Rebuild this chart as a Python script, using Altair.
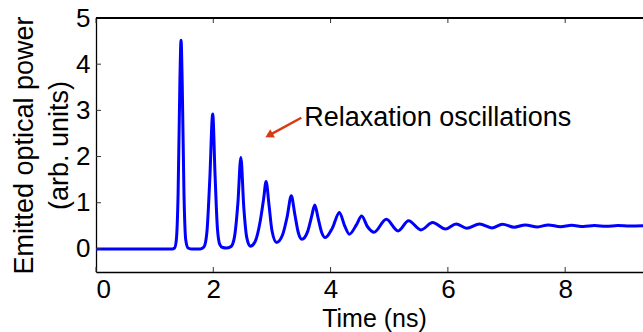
import altair as alt
import pandas as pd

# ---- data ----
time_ns = [0.00, 1.00, 1.30, 1.34, 1.37, 1.40, 1.43, 1.45, 1.47, 1.50, 1.53, 1.57, 1.62,
           1.78, 1.84, 1.89, 1.94, 1.99, 2.03, 2.07, 2.11, 2.16, 2.22,
           2.30, 2.36, 2.42, 2.47, 2.52, 2.57, 2.63,
           2.71, 2.80, 2.86, 2.90, 2.95, 3.00, 3.08,
           3.18, 3.26, 3.33, 3.39, 3.45, 3.51,
           3.61, 3.68, 3.73, 3.79, 3.85, 3.91,
           4.03, 4.15, 4.24, 4.32, 4.44, 4.53, 4.63, 4.74,
           4.95, 5.15, 5.33, 5.54, 5.74, 5.96, 6.14, 6.32, 6.54, 6.75, 6.93,
           7.13, 7.32, 7.53, 7.71, 7.92, 8.11, 8.31, 8.50, 8.70, 8.90, 9.10, 9.33]
power = [0.00, 0.00, 0.00, 0.02, 0.20, 1.20, 3.60, 4.52, 3.60, 1.20, 0.20, 0.02, 0.00,
         0.00, 0.04, 0.35, 1.50, 2.92, 1.60, 0.45, 0.10, 0.03, 0.02,
         0.05, 0.25, 1.00, 1.98, 0.90, 0.25, 0.06,
         0.15, 0.60, 1.10, 1.46, 0.95, 0.40, 0.14,
         0.30, 0.70, 1.15, 0.75, 0.35, 0.21,
         0.38, 0.72, 0.95, 0.65, 0.35, 0.245,
         0.45, 0.79, 0.50, 0.32, 0.52, 0.71, 0.48, 0.36,
         0.64, 0.39, 0.61, 0.41, 0.57, 0.43, 0.54, 0.45, 0.54, 0.455, 0.535,
         0.47, 0.52, 0.475, 0.52, 0.48, 0.51, 0.485, 0.505, 0.49, 0.505, 0.495, 0.50]

x_ticks = [0, 2, 4, 6, 8]
y_ticks = [0, 1, 2, 3, 4, 5]
x_domain = [0, 9.327]
y_domain = [-0.5, 5]

x_title = "Time (ns)"
y_title = ["Emitted optical power", "(arb. units)\u00a0\u00a0\u00a0\u00a0"]

note_text = ["Relaxation oscillations"]
note_x = [3.55]
note_y = [2.67]
arrow_x = [3.50, 2.95]
arrow_y = [2.84, 2.46]
arrow_angle = [241]

W, H = 547, 254
FONT = "Liberation Sans"

df = pd.DataFrame({"t": time_ns, "p": power})
xt = pd.DataFrame({"v": x_ticks})
yt = pd.DataFrame({"v": y_ticks})
note = pd.DataFrame({"x": note_x, "y": note_y, "txt": note_text})
arr = pd.DataFrame({"x": arrow_x, "y": arrow_y})
head = pd.DataFrame({"x": arrow_x[1:], "y": arrow_y[1:], "a": arrow_angle})

xs = alt.Scale(domain=x_domain, nice=False, zero=False)
ys = alt.Scale(domain=y_domain, nice=False, zero=False)

common = dict(grid=False, ticks=False, tickSize=0, domainColor="black", domainWidth=1.3,
              labelFont=FONT, titleFont=FONT, labelColor="black", titleColor="black",
              titleFontWeight="normal", labelFontWeight="normal", format="d")

line = alt.Chart(df).mark_line(color="#0000FF", strokeWidth=3, interpolate="monotone", clip=True).encode(
    x=alt.X("t:Q", scale=xs, axis=alt.Axis(
        values=x_ticks, title=x_title, labelFontSize=26, titleFontSize=25,
        titleX=278, titleY=54, titleBaseline="alphabetic", titleAlign="center",
        labelPadding=4, **common)),
    y=alt.Y("p:Q", scale=ys, axis=alt.Axis(
        values=y_ticks, title=y_title,
        labelFontSize=26, titleFontSize=27, titleX=-64, titleY=127,
        titleBaseline="alphabetic", titleAlign="center", titleLineHeight=35,
        labelPadding=6, **common)),
)

xb = alt.Chart(xt).mark_rule(color="#333333", strokeWidth=1).encode(
    x=alt.X("v:Q", scale=xs), y=alt.value(H), y2=alt.value(H - 5))
xtop = alt.Chart(xt).mark_rule(color="#333333", strokeWidth=1).encode(
    x=alt.X("v:Q", scale=xs), y=alt.value(0), y2=alt.value(5))
yl = alt.Chart(yt).mark_rule(color="#333333", strokeWidth=1).encode(
    y=alt.Y("v:Q", scale=ys), x=alt.value(0), x2=alt.value(5))
topline = alt.Chart(xt).mark_rule(color="black", strokeWidth=1.3).encode(
    x=alt.value(0), x2=alt.value(W), y=alt.value(0))

txt = alt.Chart(note).mark_text(align="left", baseline="alphabetic", fontSize=27, font=FONT,
                                color="black").encode(
    x=alt.X("x:Q", scale=xs), y=alt.Y("y:Q", scale=ys), text="txt:N")
arrow_line = alt.Chart(arr).mark_line(color="#D83A12", strokeWidth=2.5).encode(
    x=alt.X("x:Q", scale=xs), y=alt.Y("y:Q", scale=ys))
arrow_head = alt.Chart(head).mark_point(shape="triangle-up", filled=True, size=90,
                                        color="#D83A12", opacity=1).encode(
    x=alt.X("x:Q", scale=xs), y=alt.Y("y:Q", scale=ys), angle=alt.Angle("a:Q", scale=None))

chart = alt.layer(line, xb, xtop, yl, topline, txt, arrow_line, arrow_head).properties(
    width=W, height=H,
    autosize=alt.AutoSizeParams(type="none"),
    padding={"left": 96, "top": 18, "right": 0, "bottom": 60},
    background="white",
).configure_view(stroke=None)

chart.save("out.html", embed_options={"renderer": "svg", "actions": False})
